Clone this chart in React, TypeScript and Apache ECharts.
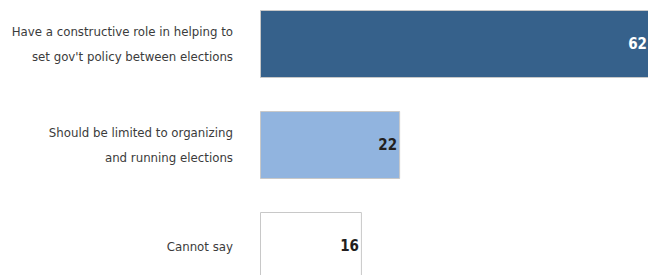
import React, { useEffect, useRef } from "react";
import * as echarts from "echarts";

const categories = [
  "Have a constructive role in helping to\nset gov't policy between elections",
  "Should be limited to organizing\nand running elections",
  "Cannot say",
];
const values = [62, 22, 16];
const barColors = ["#36618b", "#91b4df", "#ffffff"];
const labelColors = ["#ffffff", "#231f20", "#231f20"];

const FONT = "'DejaVu Sans Condensed', sans-serif";

export default function App() {
  const ref = useRef<HTMLDivElement>(null);
  useEffect(() => {
    if (!ref.current) return;
    const chart = echarts.init(ref.current, undefined, { renderer: "svg" });
    chart.setOption({
      animation: false,
      backgroundColor: "#ffffff",
      grid: {
        left: 260,
        top: -6.5,
        width: 637,
        height: 303,
        containLabel: false,
        outerBoundsMode: "none",
      },
      xAxis: {
        type: "value",
        min: 0,
        max: 100,
        show: false,
      },
      yAxis: {
        type: "category",
        data: categories,
        inverse: true,
        axisLine: { show: false },
        axisTick: { show: false },
        axisLabel: {
          margin: 27,
          fontFamily: FONT,
          fontSize: 13.1,
          lineHeight: 25,
          color: "#3b3b3b",
          align: "right",
        },
      },
      series: [
        {
          type: "bar",
          barWidth: 68,
          data: values.map((v, i) => ({
            value: v,
            itemStyle: { color: barColors[i], borderColor: "#c8c8c8", borderWidth: 1 },
            label: { color: labelColors[i], distance: i === 0 ? 8 : 3 },
          })),
          label: {
            show: true,
            position: "insideRight",
            distance: 3,
            fontFamily: FONT,
            fontSize: 15,
            fontWeight: "bold",
          },
        },
      ],
    });
    return () => chart.dispose();
  }, []);
  return (
    <div
      ref={ref}
      style={{ position: "absolute", left: 0, top: 0, width: 648, height: 275 }}
    />
  );
}
